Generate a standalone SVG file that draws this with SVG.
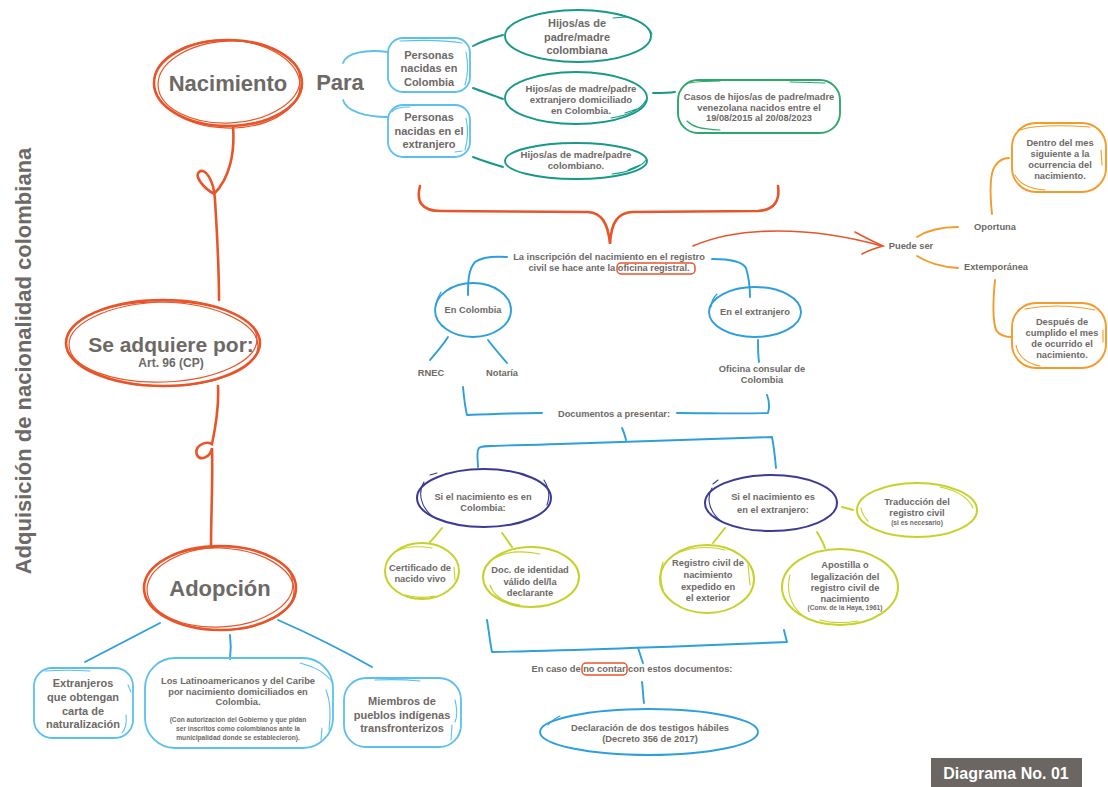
<svg xmlns="http://www.w3.org/2000/svg" width="1108" height="787" viewBox="0 0 1108 787">
<style>
text{font-family:"Liberation Sans",Arial,sans-serif;font-weight:bold;fill:#6d6966;text-anchor:middle}
.h{font-size:22px}
.m{font-size:11px}
.s{font-size:9.3px}
.xs{font-size:6.6px}
.or{fill:none;stroke:#e8552a;stroke-width:2.6;stroke-linecap:round}
.or2{fill:none;stroke:#e8552a;stroke-width:1.2}
.lb{fill:none;stroke:#5cc0ee;stroke-width:1.8;stroke-linecap:round}
.lb2{fill:none;stroke:#5cc0ee;stroke-width:1.1;stroke-linecap:round}
.tl{fill:none;stroke:#17998a;stroke-width:1.9;stroke-linecap:round}
.tl2{fill:none;stroke:#17998a;stroke-width:1.1;stroke-linecap:round}
.gr{fill:none;stroke:#2ea76c;stroke-width:1.9;stroke-linecap:round}
.gr2{fill:none;stroke:#2ea76c;stroke-width:1.1;stroke-linecap:round}
.bl{fill:none;stroke:#2c9fdc;stroke-width:1.9;stroke-linecap:round;stroke-linejoin:round}
.bl2{fill:none;stroke:#2c9fdc;stroke-width:1.1;stroke-linecap:round}
.nv{fill:none;stroke:#3b3a97;stroke-width:2;stroke-linecap:round}
.nv2{fill:none;stroke:#3b3a97;stroke-width:1.1;stroke-linecap:round}
.yg{fill:none;stroke:#c6d22b;stroke-width:2;stroke-linecap:round}
.yg2{fill:none;stroke:#c6d22b;stroke-width:1.1;stroke-linecap:round}
.ol{fill:none;stroke:#f39b2b;stroke-width:1.9;stroke-linecap:round}
.ol2{fill:none;stroke:#f39b2b;stroke-width:1.1;stroke-linecap:round}
</style>

<g id="title">
<text class="h" transform="translate(31,361) rotate(-90)">Adquisición de nacionalidad colombiana</text>
</g>

<g id="connectors">
<path class="or" d="M233,127 C235,152 230,178 214,194 C204,188 194,177 199,172 C205,167 214,180 215,200 C217,232 219,268 219,300"/>
<path class="or" d="M218,386 C219,405 216,425 212,444 C204,440 194,447 197,455 C201,462 211,456 212,448 C213,480 211,515 211,546"/>
<path class="lb" d="M388,52 C365,49 346,53 343,63"/>
<path class="lb" d="M343,100 C346,111 365,117 388,117"/>
<path class="tl" d="M473,46 C482,41 492,38 503,35"/>
<path class="tl" d="M473,88 C483,92 493,95 503,99"/>
<path class="tl" d="M473,157 C483,161 493,164 503,167"/>
<path class="tl" d="M653,93 C661,93 668,93 675,92"/>
<path class="or" d="M420,186 C416,201 421,211 441,211 L588,212 C601,213 608,222 610,244 C611,222 618,213 632,212 L758,211 C775,210 780,200 778,186"/>
<path class="or" style="stroke-width:1.6" d="M693,246 C740,226 810,226 882,246"/>
<path class="or" style="stroke-width:1.6" d="M855,232 C866,238 874,242 883,246 C876,248 869,250 862,254"/>
<path class="ol" d="M917,237 C928,230 942,227 958,227"/>
<path class="ol" d="M917,256 C928,263 942,267 958,268"/>
<path class="ol" d="M992,214 C990,195 989,175 995,166 C999,160 1004,158 1009,158"/>
<path class="ol" d="M995,280 C993,300 992,318 996,330 C999,335 1005,337 1012,337"/>
<path class="bl" d="M507,257 C493,256 482,257 475,262 C468,270 468,283 468,295"/>
<path class="bl" d="M712,259 C728,259 742,261 746,268 C749,278 750,290 750,297"/>
<path class="bl" d="M448,337 C443,345 436,353 430,360"/>
<path class="bl" d="M488,340 C494,348 501,356 507,363"/>
<path class="bl" d="M758,340 C758,348 758,355 759,362"/>
<path class="bl" d="M463,387 C464,398 465,407 467,415 C490,414 516,413 542,413"/>
<path class="bl" d="M677,413 C708,413 738,414 768,413 C770,406 769,400 767,395"/>
<path class="bl" d="M622,428 C624,432 625,436 626,440"/>
<path class="bl" d="M478,467 C478,460 476,452 479,448 C482,445 500,446 560,444 C640,441 710,439 772,437 C774,447 775,457 776,468"/>
<path class="yg" d="M442,528 C438,533 434,538 430,542"/>
<path class="yg" d="M502,533 C506,538 509,543 512,547"/>
<path class="yg" d="M725,528 C721,533 717,538 713,543"/>
<path class="yg" d="M817,532 C820,537 823,542 825,548"/>
<path class="yg" d="M842,507 C846,508 850,509 853,510"/>
<path class="bl" d="M487,620 C489,632 490,642 492,652 C590,650 690,646 787,642 C786,638 785,635 784,630"/>
<path class="bl" d="M638,648 C640,653 641,658 643,663"/>
<path class="bl" d="M642,682 C643,689 643,696 644,703"/>
<path class="bl" d="M160,623 C135,636 110,649 85,662"/>
<path class="bl" d="M230,635 C231,643 231,651 230,659"/>
<path class="bl" d="M278,620 C310,634 342,650 372,667"/>
</g>

<g id="nacimiento">
<ellipse class="or" cx="228" cy="83" rx="74" ry="43"/>
<ellipse class="or2" cx="229" cy="82" rx="71" ry="41" transform="rotate(-3 229 82)"/>
<ellipse class="or2" cx="227" cy="84" rx="73" ry="44" transform="rotate(2 227 84)"/>
<text class="h" x="228" y="91">Nacimiento</text>
</g>
<g id="para"><text class="h" x="340" y="90">Para</text></g>

<g id="se-adquiere">
<ellipse class="or" cx="163" cy="343" rx="97" ry="43"/>
<ellipse class="or2" cx="163" cy="342" rx="94" ry="40" transform="rotate(-2 163 342)"/>
<ellipse class="or2" cx="162" cy="344" rx="96" ry="42" transform="rotate(1.5 162 344)"/>
<text style="font-size:21px" x="171" y="352">Se adquiere por:</text>
<text style="font-size:12px" x="171" y="367">Art. 96 (CP)</text>
</g>

<g id="adopcion">
<ellipse class="or" cx="220" cy="588" rx="76" ry="42"/>
<ellipse class="or2" cx="220" cy="587" rx="73" ry="40" transform="rotate(-3 220 587)"/>
<ellipse class="or2" cx="219" cy="589" rx="75" ry="41" transform="rotate(2 219 589)"/>
<text class="h" x="220" y="596">Adopción</text>
</g>

<g id="personas-colombia">
<rect class="lb" x="388" y="38" width="82" height="54" rx="15"/>
<path class="lb2" d="M400,41 C420,40 445,40 462,43 M466,52 C468,62 468,75 465,85"/>
<text class="m" x="429" y="59">Personas</text>
<text class="m" x="429" y="72">nacidas en</text>
<text class="m" x="429" y="86">Colombia</text>
</g>

<g id="personas-extranjero">
<rect class="lb" x="388" y="105" width="82" height="52" rx="15"/>
<path class="lb2" d="M392,112 C394,108 400,107 410,107 M466,118 C468,128 468,140 465,150 M455,152 L462,151"/>
<text class="m" x="429" y="121">Personas</text>
<text class="m" x="429" y="135">nacidas en el</text>
<text class="m" x="429" y="148">extranjero</text>
</g>

<g id="hijos-colombiana">
<ellipse class="tl" cx="578" cy="36" rx="73" ry="26"/>
<path class="tl2" d="M618,14 C635,18 648,25 652,34 M613,18 L626,17"/>
<text class="m" x="577" y="27">Hijos/as de</text>
<text class="m" x="577" y="41">padre/madre</text>
<text class="m" x="577" y="54">colombiana</text>
</g>

<g id="hijos-extranjero">
<ellipse class="tl" cx="576" cy="98" rx="71" ry="26"/>
<path class="tl2" d="M611,118 C630,115 642,108 646,100 M625,113 L640,108"/>
<text style="font-size:9.6px" x="581" y="92">Hijos/as de madre/padre</text>
<text style="font-size:9.6px" x="581" y="103">extranjero domiciliado</text>
<text style="font-size:9.6px" x="581" y="114">en Colombia.</text>
</g>

<g id="hijos-colombiano">
<ellipse class="tl" cx="576" cy="161" rx="71" ry="18"/>
<path class="tl2" d="M612,174 C630,172 642,166 646,160 M628,170 L640,165"/>
<text style="font-size:9.6px" x="576" y="158">Hijos/as de madre/padre</text>
<text style="font-size:9.6px" x="576" y="169">colombiano.</text>
</g>

<g id="casos">
<rect class="gr" x="678" y="80" width="162" height="53" rx="20"/>
<path class="gr2" d="M690,83 C700,81 708,81 720,81 M790,82 L825,83 M687,121 C693,127 700,129 720,130"/>
<text class="s" x="759" y="100">Casos de hijos/as de padre/madre</text>
<text class="s" x="759" y="111">venezolana nacidos entre el</text>
<text class="s" x="759" y="121">19/08/2015 al 20/08/2023</text>
</g>

<g id="puede-ser"><text class="s" x="911" y="249">Puede ser</text></g>
<g id="oportuna"><text class="s" x="995" y="230">Oportuna</text></g>
<g id="extemporanea"><text class="s" x="996" y="270">Extemporánea</text></g>

<g id="dentro">
<rect class="ol" x="1012" y="123" width="94" height="69" rx="24"/>
<path class="ol2" d="M1020,130 C1035,125 1060,125 1090,127 M1101,150 L1102,165 M1015,175 C1020,185 1030,189 1045,190"/>
<text class="s" x="1060" y="146">Dentro del mes</text>
<text class="s" x="1060" y="157">siguiente a la</text>
<text class="s" x="1060" y="168">ocurrencia del</text>
<text class="s" x="1060" y="179">nacimiento.</text>
</g>

<g id="despues">
<rect class="ol" x="1012" y="303" width="94" height="65" rx="24"/>
<path class="ol2" d="M1025,309 C1045,305 1070,305 1095,310 M1103,330 L1103,342 M1016,345 C1018,356 1025,363 1040,366"/>
<text class="s" x="1062" y="325">Después de</text>
<text class="s" x="1062" y="336">cumplido el mes</text>
<text class="s" x="1062" y="347">de ocurrido el</text>
<text class="s" x="1062" y="358">nacimiento.</text>
</g>

<g id="inscripcion">
<rect class="or" style="stroke-width:1.5" x="617" y="263" width="78" height="11" rx="4"/>
<text class="s" x="609" y="260">La inscripción del nacimiento en el registro</text>
<text class="s" x="609" y="271">civil se hace ante la oficina registral.</text>
</g>

<g id="en-colombia">
<ellipse class="bl" cx="473" cy="310" rx="38" ry="27"/>
<path class="bl2" d="M441,292 C438,297 436,301 436,306"/>
<text class="s" x="473" y="313">En Colombia</text>
</g>

<g id="en-el-extranjero">
<ellipse class="bl" cx="755" cy="312" rx="46" ry="25"/>
<path class="bl2" d="M717,294 C713,298 711,302 711,307"/>
<text class="s" x="755" y="315">En el extranjero</text>
</g>

<g id="rnec"><text class="s" x="431" y="376">RNEC</text></g>
<g id="notaria"><text class="s" x="502" y="376">Notaría</text></g>
<g id="oficina-consular">
<text class="s" x="762" y="372">Oficina consular de</text>
<text class="s" x="762" y="383">Colombia</text>
</g>
<g id="documentos"><text class="s" x="614" y="417">Documentos a presentar:</text></g>

<g id="si-colombia">
<ellipse class="nv" cx="484" cy="498" rx="67" ry="29"/>
<path class="nv2" d="M424,482 C418,492 420,506 432,516 M430,475 L437,473 M544,480 C549,488 550,497 547,505"/>
<text class="s" x="483" y="500">Si el nacimiento es en</text>
<text class="s" x="483" y="511">Colombia:</text>
</g>

<g id="si-extranjero">
<ellipse class="nv" cx="771" cy="503" rx="66" ry="28"/>
<path class="nv2" d="M712,488 C706,498 709,512 722,522 M713,484 L718,480"/>
<text class="s" x="773" y="500">Si el nacimiento es</text>
<text class="s" x="773" y="513">en el extranjero:</text>
</g>

<g id="certificado">
<ellipse class="yg" cx="422" cy="571" rx="37" ry="28"/>
<path class="yg2" d="M395,552 C405,546 420,546 432,548 M454,567 L455,580 M405,595 C415,598 425,598 435,596"/>
<text class="s" x="420" y="571">Certificado de</text>
<text class="s" x="420" y="582">nacido vivo</text>
</g>

<g id="doc-identidad">
<ellipse class="yg" cx="531" cy="577" rx="48" ry="30"/>
<path class="yg2" d="M495,558 C505,552 520,550 540,554 M490,585 C494,597 505,603 520,605"/>
<text class="s" x="530" y="573">Doc. de identidad</text>
<text class="s" x="530" y="585">válido del/la</text>
<text class="s" x="530" y="596">declarante</text>
</g>

<g id="registro-exterior">
<ellipse class="yg" cx="707" cy="579" rx="47" ry="34"/>
<path class="yg2" d="M680,552 C695,547 710,546 725,550 M663,562 C660,570 660,580 663,590 M748,565 L750,585"/>
<text class="s" x="708" y="566">Registro civil de</text>
<text class="s" x="708" y="578">nacimiento</text>
<text class="s" x="708" y="590">expedido en</text>
<text class="s" x="708" y="601">el exterior</text>
</g>

<g id="apostilla">
<ellipse class="yg" cx="840" cy="587" rx="58" ry="38"/>
<path class="yg2" d="M790,575 C786,590 790,605 802,615 M820,620 C830,623 845,623 858,621"/>
<text class="s" x="845" y="568">Apostilla o</text>
<text class="s" x="845" y="580">legalización del</text>
<text class="s" x="845" y="591">registro civil de</text>
<text class="s" x="845" y="602">nacimiento</text>
<text class="xs" x="845" y="610">(Conv. de la Haya, 1961)</text>
</g>

<g id="traduccion">
<ellipse class="yg" cx="917" cy="510" rx="60" ry="27"/>
<path class="yg2" d="M940,487 C955,490 968,497 973,508 M861,508 C862,514 865,518 868,521"/>
<text class="s" x="917" y="505">Traducción del</text>
<text class="s" x="917" y="516">registro civil</text>
<text class="xs" x="917" y="525">(si es necesario)</text>
</g>

<g id="en-caso">
<rect class="or" style="stroke-width:1.5" x="582" y="663" width="45" height="12" rx="4"/>
<text class="s" x="632" y="672">En caso de no contar con estos documentos:</text>
</g>

<g id="declaracion">
<ellipse class="bl" cx="649" cy="732" rx="109" ry="23"/>
<path class="bl2" d="M548,725 C552,720 558,717 560,716"/>
<text class="s" x="650" y="731">Declaración de dos testigos hábiles</text>
<text class="s" x="650" y="742">(Decreto 356 de 2017)</text>
</g>

<g id="extranjeros-carta">
<rect class="lb" x="34" y="668" width="99" height="70" rx="18"/>
<path class="lb2" d="M45,671 C60,670 75,670 90,671 M128,685 L131,692 M126,715 C127,722 126,728 122,733"/>
<text class="m" x="83" y="687">Extranjeros</text>
<text class="m" x="83" y="701">que obtengan</text>
<text class="m" x="83" y="715">carta de</text>
<text class="m" x="83" y="728">naturalización</text>
</g>

<g id="latinoamericanos">
<rect class="lb" x="145" y="658" width="188" height="90" rx="30"/>
<path class="lb2" d="M300,663 C315,667 325,672 333,683 M326,690 C330,700 331,715 329,730 M322,728 L321,740"/>
<text class="s" x="238" y="684">Los Latinoamericanos y del Caribe</text>
<text class="s" x="238" y="695">por nacimiento domiciliados en</text>
<text class="s" x="238" y="705">Colombia.</text>
<text class="xs" x="238" y="722">(Con autorización del Gobierno y que pidan</text>
<text class="xs" x="238" y="731">ser inscritos como colombianos ante la</text>
<text class="xs" x="238" y="740">municipalidad donde se establecieron).</text>
</g>

<g id="indigenas">
<rect class="lb" x="344" y="678" width="117" height="69" rx="22"/>
<path class="lb2" d="M375,680 C395,679 410,680 420,681 M455,700 C457,708 458,715 455,722 M452,725 L451,740"/>
<text class="m" x="402" y="705">Miembros de</text>
<text class="m" x="402" y="719">pueblos indígenas</text>
<text class="m" x="402" y="732">transfronterizos</text>
</g>

<g id="diagrama">
<rect x="931" y="758" width="151" height="29" fill="#6b6662"/>
<text style="font-size:16px;fill:#ffffff" x="1006" y="779">Diagrama No. 01</text>
</g>
</svg>
